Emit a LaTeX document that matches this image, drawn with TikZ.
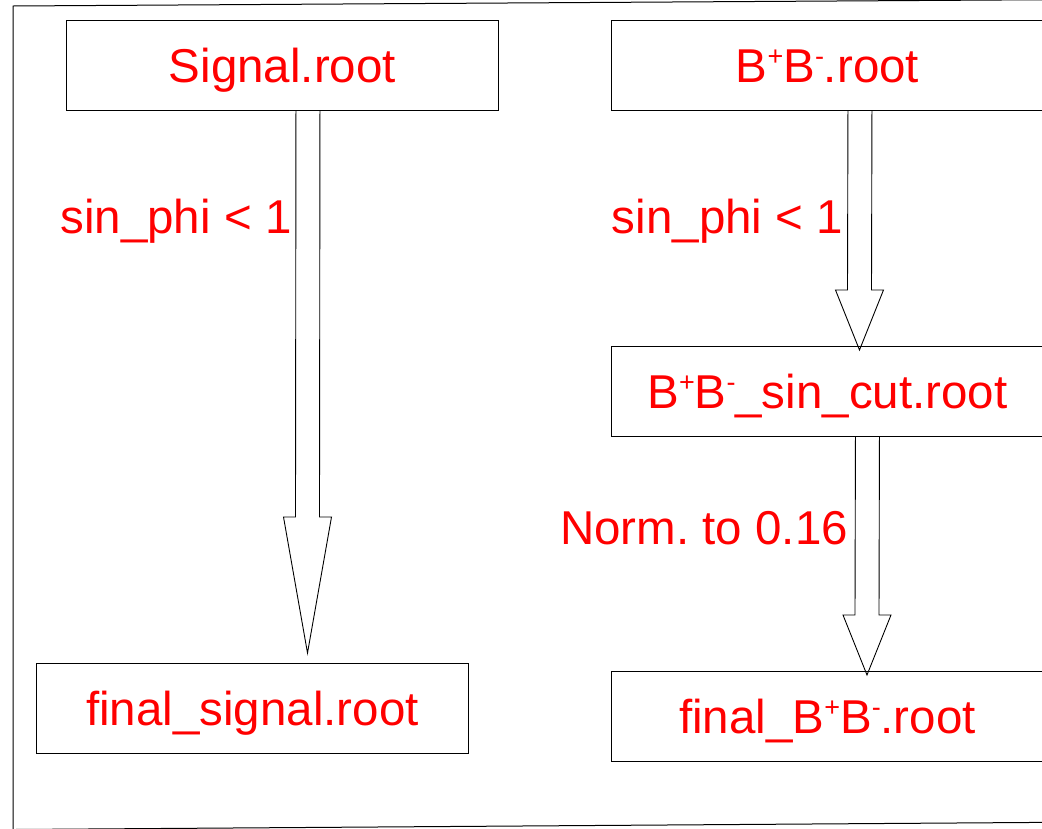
\documentclass[tikz,border=0pt]{standalone}
\usepackage{fontspec}
\setmainfont{Liberation Sans}
\usetikzlibrary{calc}
\frenchspacing
\definecolor{txtred}{RGB}{255,0,0}
\newcommand\supr[1]{\raisebox{0.36em}{\fontsize{27}{28}\selectfont #1}}
\newcommand\blockarr[3]{%
  \draw[arrowline] ($(#1)+(-12,0)$) -- ($(#2)+(-12,-#3)$) -- ($(#2)+(-24,-#3)$)
    -- (#2) -- ($(#2)+(24,-#3)$) -- ($(#2)+(12,-#3)$) -- ($(#1)+(12,0)$);}
\begin{document}
\begin{tikzpicture}[x=1pt,y=-1pt,
  filebox/.style={draw=black,line width=0.9pt,rectangle,inner sep=0pt,
    minimum width=432pt,text height=62pt,text depth=28pt,
    text=txtred,font=\fontsize{47.5}{50}\selectfont},
  cutlabel/.style={inner sep=0pt,anchor=base,text=txtred,
    font=\fontsize{47.5}{50}\selectfont},
  arrowline/.style={draw=black,line width=0.9pt,line join=miter},
  framel/.style={draw=black,line width=1pt}]
\useasboundingbox (0,0) rectangle (1042,828);
\clip (0,0) rectangle (1042,828);
% frame
\draw[framel] (13,830) -- (13,6) -- (1100,-0.6);
\draw[framel] (0,829.6) -- (1042,822.4);
% boxes
\node[filebox,anchor=north west] (sig) at (66,20) {Signal.root};
\node[filebox,anchor=north west] (bb) at (611,20) {B\supr{+}B\supr{-}.root};
\node[filebox,anchor=north west] (bbcut) at (611,346) {B\supr{+}B\supr{-}\_sin\_cut.root};
\node[filebox,anchor=north west] (fsig) at (36,663) {final\_signal.root};
\node[filebox,anchor=north west] (fbb) at (611,671) {final\_B\supr{+}B\supr{-}.root};
% labels
\node[cutlabel] (l1) at (176,233) {sin\_phi < 1};
\node[cutlabel] (l2) at (727.5,233) {sin\_phi < 1};
\node[cutlabel] (l3) at (704,544) {Norm. to 0.16};
% arrows
\path (sig.south) ++(25.5,0) coordinate (a1s);
\coordinate (a1t) at (307.5,653);
\path (bb.south) ++(32.5,0) coordinate (a2s);
\coordinate (a2t) at (859.5,350);
\path (bbcut.south) ++(40,0) coordinate (a3s);
\coordinate (a3t) at (867,675);
\blockarr{a1s}{a1t}{136}
\blockarr{a2s}{a2t}{60}
\blockarr{a3s}{a3t}{60}
\end{tikzpicture}
\end{document}
